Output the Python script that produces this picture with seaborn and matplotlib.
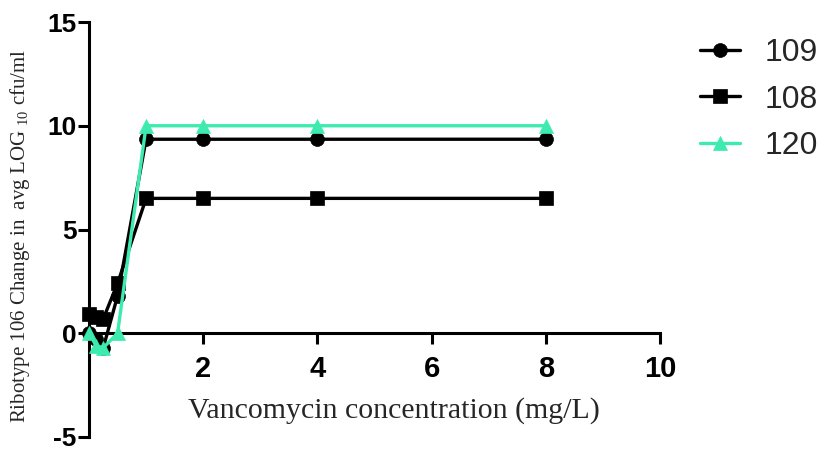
import matplotlib
matplotlib.use("Agg")
import matplotlib.pyplot as plt
import seaborn as sns
import pandas as pd

# Vancomycin concentrations (mg/L)
conc = [0, 0.125, 0.25, 0.5, 1, 2, 4, 8]

# Change in avg log10 cfu/ml per strain
strain_109 = [0.0, -0.3, -0.7, 1.8, 9.35, 9.35, 9.35, 9.35]
strain_108 = [0.95, 0.8, 0.7, 2.4, 6.5, 6.5, 6.5, 6.5]
strain_120 = [0.0, -0.6, -0.7, 0.0, 10.0, 10.0, 10.0, 10.0]

series_names = ["109", "108", "120"]
series_values = [strain_109, strain_108, strain_120]
series_colors = ["#000000", "#000000", "#3DEBAE"]
series_markers = ["o", "s", "^"]

x_ticks = [2, 4, 6, 8, 10]
y_ticks = [-5, 0, 5, 10, 15]

sns.set_theme(style="white")
plt.rcParams["font.family"] = ["Liberation Sans", "DejaVu Sans"]
plt.rcParams["axes.unicode_minus"] = False
plt.rcParams["mathtext.fontset"] = "custom"
plt.rcParams["mathtext.rm"] = "Liberation Serif"

fig = plt.figure(figsize=(8.24, 4.55), dpi=100)
ax = fig.add_axes([89 / 824, 1 - 437 / 455, 571 / 824, 415 / 455])

for name, vals, col, mk in zip(series_names, series_values, series_colors, series_markers):
    df = pd.DataFrame({"conc": conc, "value": vals})
    sns.lineplot(data=df, x="conc", y="value", ax=ax, color=col, marker=mk,
                 markersize=10, markeredgecolor=col, markeredgewidth=0.5,
                 linewidth=2.4, label=name, clip_on=False, zorder=3)

ax.set_xlim(0, 10)
ax.set_ylim(-5, 15)
ax.set_xticks(x_ticks)
ax.set_yticks(y_ticks)
ax.set_xticklabels([str(t) for t in x_ticks])
ax.set_yticklabels([str(t) for t in y_ticks])

for side in ["top", "right"]:
    ax.spines[side].set_visible(False)
ax.spines["bottom"].set_position(("data", 0))
for side in ["left", "bottom"]:
    ax.spines[side].set_linewidth(2.2)
    ax.spines[side].set_color("black")

ax.tick_params(axis="both", which="major", direction="out", length=8, width=2.2,
               color="black", labelcolor="black", left=True, bottom=True)
ax.tick_params(axis="x", pad=8, labelsize=21)
ax.tick_params(axis="y", pad=1, labelsize=19)
for lbl in ax.get_xticklabels() + ax.get_yticklabels():
    lbl.set_fontweight("bold")

ax.set_xlabel("")
ax.set_ylabel("")
fig.text(394 / 824, 1 - 411 / 455, "Vancomycin concentration (mg/L)",
         family=["Liberation Serif", "DejaVu Serif"], fontsize=21.5,
         ha="center", va="center")
fig.text(20 / 824, 1 - 236 / 455,
         r"Ribotype 106 Change in  avg LOG $_{\mathrm{10}}$ cfu/ml",
         family=["Liberation Serif", "DejaVu Serif"], fontsize=15,
         rotation=90, ha="center", va="center")

handles, labels = ax.get_legend_handles_labels()
ax.legend(handles, labels, loc="upper left", bbox_to_anchor=(700 / 824, 1 - 38 / 455),
          bbox_transform=fig.transFigure, frameon=False, fontsize=23,
          handlelength=1.25, handletextpad=0.78, labelspacing=0.52,
          borderaxespad=0, borderpad=0)

fig.savefig("out.png", dpi=100)
